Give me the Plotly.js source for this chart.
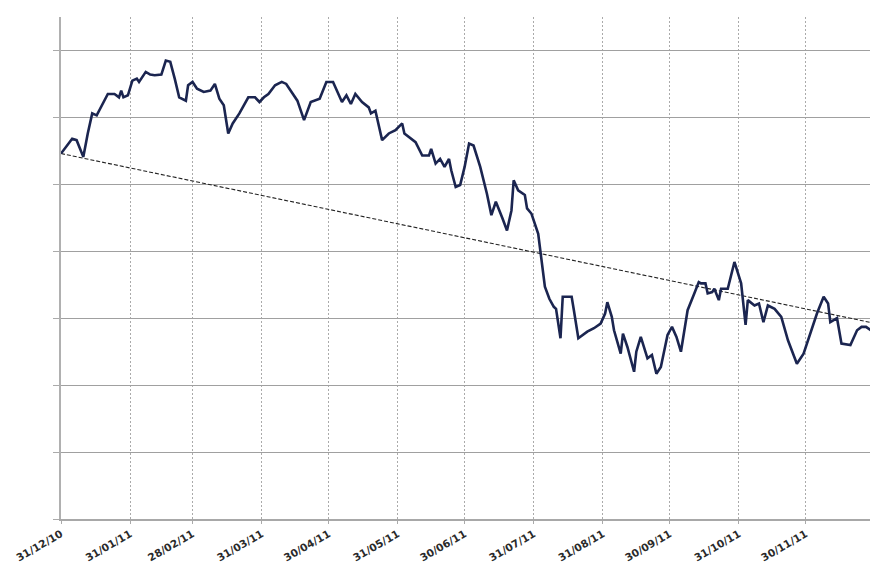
<!DOCTYPE html>
<html>
<head>
<meta charset="utf-8">
<script src="https://cdn.plot.ly/plotly-3.0.1.min.js"></script>
<style>html,body{margin:0;padding:0;background:#fff;}#chart{width:870px;height:566px;}</style>
</head>
<body>
<div id="chart"></div>
<script>
// Series (dates, index values)
const dates = [
 '2010-12-31','2011-01-05','2011-01-07','2011-01-10','2011-01-12','2011-01-14','2011-01-16','2011-01-18','2011-01-21','2011-01-24',
 '2011-01-26','2011-01-27','2011-01-28','2011-01-30','2011-02-01','2011-02-03','2011-02-04','2011-02-07','2011-02-09','2011-02-11',
 '2011-02-14','2011-02-16','2011-02-18','2011-02-20','2011-02-22','2011-02-25','2011-02-26','2011-02-28','2011-03-02','2011-03-05',
 '2011-03-08','2011-03-10','2011-03-12','2011-03-14','2011-03-16','2011-03-18','2011-03-21','2011-03-25','2011-03-28','2011-03-30',
 '2011-04-01','2011-04-03','2011-04-06','2011-04-09','2011-04-11','2011-04-14','2011-04-16','2011-04-19','2011-04-22','2011-04-26',
 '2011-04-29','2011-05-02','2011-05-06','2011-05-08','2011-05-10','2011-05-12','2011-05-15','2011-05-18','2011-05-19','2011-05-21',
 '2011-05-24','2011-05-27','2011-05-30','2011-06-02','2011-06-03','2011-06-08','2011-06-11','2011-06-14','2011-06-15','2011-06-17',
 '2011-06-19','2011-06-21','2011-06-23','2011-06-24','2011-06-26','2011-06-28','2011-06-30','2011-07-02','2011-07-04','2011-07-07',
 '2011-07-10','2011-07-12','2011-07-14','2011-07-17','2011-07-19','2011-07-21','2011-07-22','2011-07-24','2011-07-27','2011-07-28',
 '2011-07-30','2011-08-02','2011-08-03','2011-08-05','2011-08-07','2011-08-09','2011-08-10','2011-08-12','2011-08-13','2011-08-17',
 '2011-08-18','2011-08-20','2011-08-24','2011-08-27','2011-08-30','2011-09-01','2011-09-02','2011-09-04','2011-09-05','2011-09-08',
 '2011-09-09','2011-09-11','2011-09-14','2011-09-15','2011-09-17','2011-09-20','2011-09-22','2011-09-24','2011-09-26','2011-09-29',
 '2011-10-01','2011-10-03','2011-10-05','2011-10-08','2011-10-11','2011-10-13','2011-10-14','2011-10-16','2011-10-17','2011-10-19',
 '2011-10-20','2011-10-22','2011-10-23','2011-10-26','2011-10-29','2011-11-01','2011-11-03','2011-11-04','2011-11-07','2011-11-09',
 '2011-11-11','2011-11-13','2011-11-16','2011-11-19','2011-11-22','2011-11-26','2011-11-29','2011-12-02','2011-12-05','2011-12-08',
 '2011-12-10','2011-12-11','2011-12-14','2011-12-16','2011-12-20','2011-12-23','2011-12-25','2011-12-27','2011-12-30'
];
const values = [
 54.6,56.8,56.6,54.1,57.6,60.6,60.3,61.5,63.5,63.5,
 63.0,64.0,63.0,63.3,65.5,65.8,65.3,66.8,66.4,66.3,
 66.4,68.5,68.3,65.8,63.0,62.5,64.8,65.3,64.3,63.8,
 64.0,65.0,62.8,61.8,57.6,59.1,60.6,63.0,63.0,62.3,
 63.0,63.5,64.8,65.3,65.0,63.5,62.5,59.6,62.3,62.8,
 65.3,65.3,62.3,63.3,62.0,63.5,62.3,61.5,60.6,61.0,
 56.6,57.6,58.1,59.1,57.6,56.3,54.3,54.3,55.3,53.1,
 53.8,52.6,53.8,52.1,49.6,49.9,52.6,56.1,55.8,52.6,
 48.6,45.4,47.4,44.9,43.1,46.1,50.6,49.1,48.4,46.4,
 45.6,42.6,40.1,34.7,32.9,31.7,31.4,27.0,33.2,33.2,
 31.2,27.0,28.0,28.5,29.2,30.7,32.4,30.2,28.2,24.7,
 27.7,25.7,22.0,25.0,27.2,24.0,24.5,21.7,22.7,27.5,
 28.7,27.2,25.0,31.2,33.7,35.4,35.2,35.2,33.7,33.9,
 34.4,32.7,34.4,34.4,38.4,35.2,29.0,32.7,31.9,32.2,
 29.4,31.9,31.4,30.2,26.7,23.2,24.7,27.7,30.7,33.2,
 32.2,29.4,30.0,26.2,26.0,28.2,28.7,28.7,28.0
];
// Trend line endpoints
const trendDates = ['2010-12-31','2011-12-30'];
const trendValues = [54.6, 29.3];
// X tick labels
const tickDates = ['2010-12-31','2011-01-31','2011-02-28','2011-03-31','2011-04-30','2011-05-31','2011-06-30','2011-07-31','2011-08-31','2011-09-30','2011-10-31','2011-11-30'];
const tickLabels = ['31/12/10','31/01/11','28/02/11','31/03/11','30/04/11','31/05/11','30/06/11','31/07/11','31/08/11','30/09/11','31/10/11','30/11/11'];
const yTicks = [0,10,20,30,40,50,60,70];

const traces = [
 {x: trendDates, y: trendValues, type:'scatter', mode:'lines',
  line:{color:'#222', width:1.1, dash:'4px,2px'}, hoverinfo:'skip'},
 {x: dates, y: values, type:'scatter', mode:'lines',
  line:{color:'#1b2550', width:2.6}}
];
const layout = {
 width:870, height:566,
 margin:{l:61, r:0, t:17, b:47},
 paper_bgcolor:'#fff', plot_bgcolor:'#fff',
 showlegend:false,
 xaxis:{
  type:'date', range:['2010-12-31','2011-12-28 19:00'],
  tickmode:'array', tickvals: tickDates, ticktext: tickLabels,
  tickangle:-30, tickfont:{family:'DejaVu Sans', size:10.5, color:'#2a2a2a', weight:'bold'},
  showgrid:true, gridcolor:'#aaaaaa', griddash:'2px,2px', gridwidth:1,
  showline:true, linecolor:'#a8a8a8', linewidth:2,
  ticks:'outside', ticklen:3, tickcolor:'#aaa',
  zeroline:false
 },
 yaxis:{
  range:[0,75], tickmode:'array', tickvals: yTicks, showticklabels:false,
  showgrid:true, gridcolor:'#a0a0a0', gridwidth:1,
  showline:true, linecolor:'#b0b0b0', linewidth:2,
  ticks:'outside', ticklen:6, tickcolor:'#aaa',
  zeroline:false
 }
};
Plotly.newPlot('chart', traces, layout, {displayModeBar:false, staticPlot:true});
</script>
</body>
</html>
